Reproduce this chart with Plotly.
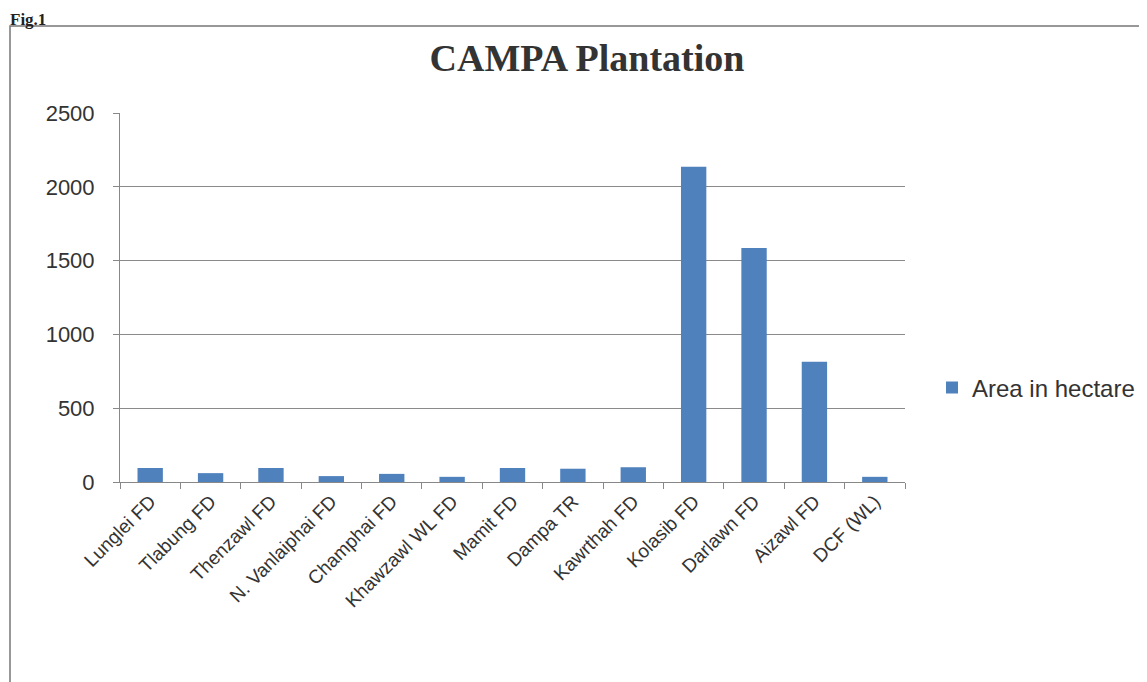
import plotly.graph_objects as go

categories = ["Lunglei FD", "Tlabung FD", "Thenzawl FD", "N. Vanlaiphai FD", "Champhai FD",
              "Khawzawl WL FD", "Mamit FD", "Dampa TR", "Kawrthah FD", "Kolasib FD",
              "Darlawn FD", "Aizawl FD", "DCF (WL)"]
area_values = [95, 60, 95, 40, 55, 35, 95, 90, 100, 2135, 1585, 815, 35]
series_name = "Area in hectare"
y_ticks = [0, 500, 1000, 1500, 2000, 2500]

OFF = 8  # page offset of the figure inside the browser window
W, H = 1139, 674
L, T = 120 - OFF, 113 - OFF
R = W - (905 - OFF)
B = H - (482 - OFF)
pw, ph = W - L - R, H - T - B


def sx(p):
    """screen x pixel -> paper coordinate"""
    return (p - OFF - L) / pw


def sy(p):
    """screen y pixel -> paper coordinate"""
    return (H - B - (p - OFF)) / ph


fig = go.Figure()
fig.add_trace(go.Bar(
    x=categories, y=area_values, name=series_name,
    marker=dict(color="#4F81BD", line=dict(width=0)),
    width=0.42, showlegend=True,
))

fig.update_layout(
    width=W, height=H,
    margin=dict(l=L, r=R, t=T, b=B, autoexpand=False),
    paper_bgcolor="white", plot_bgcolor="white",
    title=dict(text="<b>CAMPA Plantation</b>", x=(587 - OFF) / W, xanchor="center",
               y=1 - (58 - OFF) / H, yanchor="middle",
               font=dict(family="Liberation Serif", size=38, color="#333333")),
    showlegend=True,
    legend=dict(x=sx(932), y=sy(388), xanchor="left", yanchor="middle",
                font=dict(family="Liberation Sans", size=24, color="#333333"),
                bgcolor="rgba(0,0,0,0)"),
    font=dict(family="Liberation Sans", color="#333333"),
    xaxis=dict(
        type="category", tickangle=-45, tickson="boundaries",
        ticks="outside", ticklen=6, tickcolor="#888888",
        showline=True, linecolor="#888888", linewidth=1,
        showgrid=False, automargin=False,
        tickfont=dict(family="Liberation Sans", size=19, color="#333333"),
    ),
    yaxis=dict(
        range=[0, 2500], tickvals=y_ticks,
        ticks="outside", ticklen=6, tickcolor="#888888",
        showline=True, linecolor="#888888", linewidth=1,
        showgrid=True, gridcolor="#8a8a8a", gridwidth=1,
        zeroline=False, ticklabelstandoff=14, automargin=False,
        tickfont=dict(family="Liberation Sans", size=22, color="#333333"),
    ),
    shapes=[dict(type="rect", xref="paper", yref="paper",
                 x0=sx(10), x1=sx(1170), y0=sy(720), y1=sy(26),
                 line=dict(color="#777777", width=1.5), fillcolor="rgba(0,0,0,0)",
                 layer="below")],
    annotations=[dict(text="<b>Fig.1</b>", xref="paper", yref="paper",
                      x=sx(8), y=sy(8), xanchor="left", yanchor="top",
                      showarrow=False,
                      font=dict(family="Liberation Serif", size=17, color="#222222"))],
)

fig.write_html("out.html")
